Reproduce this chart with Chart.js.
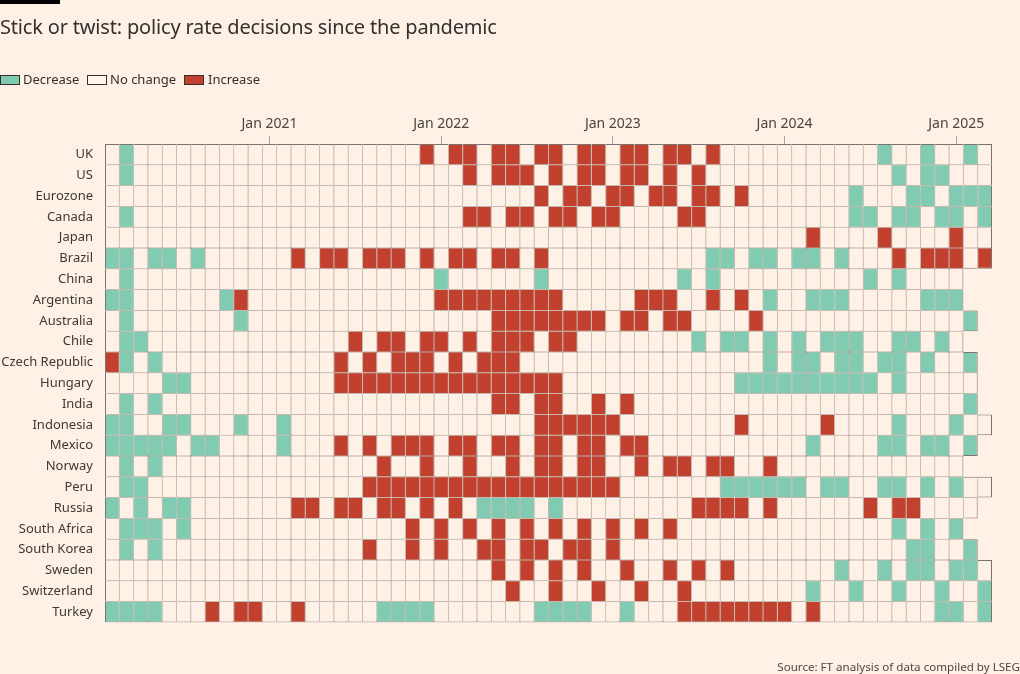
<!DOCTYPE html>
<html>
<head>
<meta charset="utf-8">
<script src="https://cdn.jsdelivr.net/npm/chart.js@4.4.1/dist/chart.umd.min.js"></script>
<style>
  html, body { margin: 0; padding: 0; background: #fff1e5; }
  #wrap { position: relative; width: 1020px; height: 674px; overflow: hidden; background: #fff1e5;
          font-family: 'Noto Sans', 'Open Sans', sans-serif; color: #33302e; }
  #topbar { position: absolute; left: 0; top: 0; width: 60px; height: 4px; background: #000; }
  #title { position: absolute; left: 0; top: 17px; font-size: 20px; letter-spacing: -0.18px; line-height: 1; white-space: nowrap; color: #33302e; }
  .sw { position: absolute; top: 75px; width: 18px; height: 8px; border: 1px solid #33302e; }
  .lt { position: absolute; top: 73px; font-size: 13px; line-height: 1; white-space: nowrap; color: #33302e; }
  #source { position: absolute; right: 0px; top: 661px; font-size: 11.6px; line-height: 1; white-space: nowrap; color: #4d4845; }
  #chartbox { position: absolute; left: 0; top: 0; width: 1020px; height: 674px; }
</style>
</head>
<body>
<div id="wrap">
  <div id="chartbox"><canvas id="c"></canvas></div>
  <div id="topbar"></div>
  <div id="title">Stick or twist: policy rate decisions since the pandemic</div>
  <div class="sw" style="left:0px;background:#80cbb1"></div><div class="lt" style="left:23px">Decrease</div>
  <div class="sw" style="left:87px;background:#fff6ee"></div><div class="lt" style="left:110px">No change</div>
  <div class="sw" style="left:184px;background:#c1402e"></div><div class="lt" style="left:208px">Increase</div>
  <div id="source">Source: FT analysis of data compiled by LSEG</div>
</div>
<script>
// ---- DATA ----
const countries = ['UK','US','Eurozone','Canada','Japan','Brazil','China','Argentina','Australia','Chile',
  'Czech Republic','Hungary','India','Indonesia','Mexico','Norway','Peru','Russia','South Africa',
  'South Korea','Sweden','Switzerland','Turkey'];

const months = [
  'Feb 2020','Mar 2020','Apr 2020','May 2020','Jun 2020','Jul 2020','Aug 2020','Sep 2020','Oct 2020','Nov 2020','Dec 2020',
  'Jan 2021','Feb 2021','Mar 2021','Apr 2021','May 2021','Jun 2021','Jul 2021','Aug 2021','Sep 2021','Oct 2021','Nov 2021','Dec 2021',
  'Jan 2022','Feb 2022','Mar 2022','Apr 2022','May 2022','Jun 2022','Jul 2022','Aug 2022','Sep 2022','Oct 2022','Nov 2022','Dec 2022',
  'Jan 2023','Feb 2023','Mar 2023','Apr 2023','May 2023','Jun 2023','Jul 2023','Aug 2023','Sep 2023','Oct 2023','Nov 2023','Dec 2023',
  'Jan 2024','Feb 2024','Mar 2024','Apr 2024','May 2024','Jun 2024','Jul 2024','Aug 2024','Sep 2024','Oct 2024','Nov 2024','Dec 2024',
  'Jan 2025','Feb 2025','Mar 2025'];

const tickLabels = ['Jan 2021','Jan 2022','Jan 2023','Jan 2024','Jan 2025'];

// -1 = decrease, 0 = no change, 1 = increase (one value per month from Feb 2020; shorter rows end earlier)
const uk = [0,-1,0,0,0,0,0,0,0,0,0,
  0,0,0,0,0,0,0,0,0,0,0,1,
  0,1,1,0,1,1,0,1,1,0,1,1,
  0,1,1,0,1,1,0,1,0,0,0,0,
  0,0,0,0,0,0,0,-1,0,0,-1,0,
  0,-1,0];
const us = [0,-1,0,0,0,0,0,0,0,0,0,
  0,0,0,0,0,0,0,0,0,0,0,0,
  0,0,1,0,1,1,1,0,1,0,1,1,
  0,1,1,0,1,0,1,0,0,0,0,0,
  0,0,0,0,0,0,0,0,-1,0,-1,-1,
  0,0,0];
const eurozone = [0,0,0,0,0,0,0,0,0,0,0,
  0,0,0,0,0,0,0,0,0,0,0,0,
  0,0,0,0,0,0,0,1,0,1,1,0,
  1,1,0,1,1,0,1,1,0,1,0,0,
  0,0,0,0,0,-1,0,0,0,-1,-1,0,
  -1,-1,-1];
const canada = [0,-1,0,0,0,0,0,0,0,0,0,
  0,0,0,0,0,0,0,0,0,0,0,0,
  0,0,1,1,0,1,1,0,1,1,0,1,
  1,0,0,0,0,1,1,0,0,0,0,0,
  0,0,0,0,0,-1,-1,0,-1,-1,0,-1,
  -1,0,-1];
const japan = [0,0,0,0,0,0,0,0,0,0,0,
  0,0,0,0,0,0,0,0,0,0,0,0,
  0,0,0,0,0,0,0,0,0,0,0,0,
  0,0,0,0,0,0,0,0,0,0,0,0,
  0,0,1,0,0,0,0,1,0,0,0,0,
  1,0,0];
const brazil = [-1,-1,0,-1,-1,0,-1,0,0,0,0,
  0,0,1,0,1,1,0,1,1,1,0,1,
  0,1,1,0,1,1,0,1,0,0,0,0,
  0,0,0,0,0,0,0,-1,-1,0,-1,-1,
  0,-1,-1,0,-1,0,0,0,1,0,1,1,
  1,0,1];
const china = [0,-1,0,0,0,0,0,0,0,0,0,
  0,0,0,0,0,0,0,0,0,0,0,0,
  -1,0,0,0,0,0,0,-1,0,0,0,0,
  0,0,0,0,0,-1,0,-1,0,0,0,0,
  0,0,0,0,0,0,-1,0,-1,0,0,0,
  0];
const argentina = [-1,-1,0,0,0,0,0,0,-1,1,0,
  0,0,0,0,0,0,0,0,0,0,0,0,
  1,1,1,1,1,1,1,1,1,0,0,0,
  0,0,1,1,1,0,0,1,0,1,0,-1,
  0,0,-1,-1,-1,0,0,0,0,0,-1,-1,
  -1];
const australia = [0,-1,0,0,0,0,0,0,0,-1,0,
  0,0,0,0,0,0,0,0,0,0,0,0,
  0,0,0,0,1,1,1,1,1,1,1,1,
  0,1,1,0,1,1,0,0,0,0,1,0,
  0,0,0,0,0,0,0,0,0,0,0,0,
  0,-1];
const chile = [0,-1,-1,0,0,0,0,0,0,0,0,
  0,0,0,0,0,0,1,0,1,1,0,1,
  1,0,1,0,1,1,1,0,1,1,0,0,
  0,0,0,0,0,0,-1,0,-1,-1,0,-1,
  0,-1,0,-1,-1,-1,0,0,-1,-1,0,-1,
  0];
const czechRepublic = [1,-1,0,-1,0,0,0,0,0,0,0,
  0,0,0,0,0,1,0,1,0,1,1,1,
  0,1,0,1,1,1,0,0,0,0,0,0,
  0,0,0,0,0,0,0,0,0,0,0,-1,
  0,-1,-1,0,-1,-1,0,-1,-1,0,-1,0,
  0,-1];
const hungary = [0,0,0,0,-1,-1,0,0,0,0,0,
  0,0,0,0,0,1,1,1,1,1,1,1,
  1,1,1,1,1,1,1,1,1,0,0,0,
  0,0,0,0,0,0,0,0,0,-1,-1,-1,
  -1,-1,-1,-1,-1,-1,-1,0,-1,0,0,0,
  0,0];
const india = [0,-1,0,-1,0,0,0,0,0,0,0,
  0,0,0,0,0,0,0,0,0,0,0,0,
  0,0,0,0,1,1,0,1,1,0,0,1,
  0,1,0,0,0,0,0,0,0,0,0,0,
  0,0,0,0,0,0,0,0,0,0,0,0,
  0,-1];
const indonesia = [-1,-1,0,0,-1,-1,0,0,0,-1,0,
  0,-1,0,0,0,0,0,0,0,0,0,0,
  0,0,0,0,0,0,0,1,1,1,1,1,
  1,0,0,0,0,0,0,0,0,1,0,0,
  0,0,0,1,0,0,0,0,-1,0,0,0,
  -1,0,0];
const mexico = [-1,-1,-1,-1,-1,0,-1,-1,0,0,0,
  0,-1,0,0,0,1,0,1,0,1,1,1,
  0,1,1,0,1,1,0,1,1,0,1,1,
  0,1,1,0,0,0,0,0,0,0,0,0,
  0,0,-1,0,0,0,0,-1,-1,0,-1,-1,
  0,-1];
const norway = [0,-1,0,-1,0,0,0,0,0,0,0,
  0,0,0,0,0,0,0,0,1,0,0,1,
  0,0,1,0,0,1,0,1,1,0,1,1,
  0,0,1,0,1,1,0,1,1,0,0,1,
  0,0,0,0,0,0,0,0,0,0,0,0,
  0];
const peru = [0,-1,-1,0,0,0,0,0,0,0,0,
  0,0,0,0,0,0,0,1,1,1,1,1,
  1,1,1,1,1,1,1,1,1,1,1,1,
  1,0,0,0,0,0,0,0,-1,-1,-1,-1,
  -1,-1,0,-1,-1,0,0,-1,-1,0,-1,0,
  -1,0,0];
const russia = [-1,0,-1,0,-1,-1,0,0,0,0,0,
  0,0,1,1,0,1,1,0,1,1,0,1,
  0,1,0,-1,-1,-1,-1,0,-1,0,0,0,
  0,0,0,0,0,0,1,1,1,1,0,1,
  0,0,0,0,0,0,1,0,1,1,0,0,
  0,0];
const southAfrica = [0,-1,-1,-1,0,-1,0,0,0,0,0,
  0,0,0,0,0,0,0,0,0,0,1,0,
  1,0,1,0,1,0,1,0,1,0,1,0,
  1,0,1,0,1,0,0,0,0,0,0,0,
  0,0,0,0,0,0,0,0,-1,0,-1,0,
  -1];
const southKorea = [0,-1,0,-1,0,0,0,0,0,0,0,
  0,0,0,0,0,0,0,1,0,0,1,0,
  1,0,0,1,1,0,1,1,0,1,1,0,
  1,0,0,0,0,0,0,0,0,0,0,0,
  0,0,0,0,0,0,0,0,0,-1,-1,0,
  0,-1];
const sweden = [0,0,0,0,0,0,0,0,0,0,0,
  0,0,0,0,0,0,0,0,0,0,0,0,
  0,0,0,0,1,0,1,0,1,0,1,0,
  0,1,0,0,1,0,1,0,1,0,0,0,
  0,0,0,0,-1,0,0,-1,0,-1,-1,0,
  -1,-1,0];
const switzerland = [0,0,0,0,0,0,0,0,0,0,0,
  0,0,0,0,0,0,0,0,0,0,0,0,
  0,0,0,0,0,1,0,0,1,0,0,1,
  0,0,1,0,0,1,0,0,0,0,0,0,
  0,0,-1,0,0,-1,0,0,-1,0,0,-1,
  0,0,-1];
const turkey = [-1,-1,-1,-1,0,0,0,1,0,1,1,
  0,0,1,0,0,0,0,0,-1,-1,-1,-1,
  0,0,0,0,0,0,0,-1,-1,-1,-1,0,
  0,-1,0,0,0,1,1,1,1,1,1,1,
  1,0,1,0,0,0,0,0,0,0,0,-1,
  -1,0,-1];

// ---- BUILD ----
const rows = [uk, us, eurozone, canada, japan, brazil, china, argentina, australia, chile,
  czechRepublic, hungary, india, indonesia, mexico, norway, peru, russia, southAfrica,
  southKorea, sweden, switzerland, turkey];

const COLORS = { '-1': '#80cbb1', '0': '#fff1e5', '1': '#c1402e' };
const GRID = '#7a7470';

function has(r, c) { return r >= 0 && r < rows.length && c >= 0 && c < rows[r].length; }

const datasets = months.map((m, i) => ({
  label: m,
  data: rows.map(r => (i < r.length ? [i, i + 1] : null)),
  backgroundColor: rows.map(r => (i < r.length ? COLORS[String(r[i])] : 'transparent')),
  borderColor: GRID,
  borderWidth: (ctx) => {
    const r = ctx.dataIndex, c = ctx.datasetIndex;
    return {
      top: has(r - 1, c) ? 0.5 : 1,
      bottom: has(r + 1, c) ? 0.5 : 1,
      left: c > 0 ? 0.5 : 1,
      right: has(r, c + 1) ? 0.5 : 1
    };
  },
  borderSkipped: false,
  inflateAmount: 0,
  grouped: false,
  barPercentage: 1,
  categoryPercentage: 1
}));

new Chart(document.getElementById('c'), {
  type: 'bar',
  data: { labels: countries, datasets },
  options: {
    indexAxis: 'y',
    responsive: true,
    maintainAspectRatio: false,
    animation: false,
    layout: { padding: { left: 0, right: 28, top: 100, bottom: 51.6 } },
    plugins: { legend: { display: false }, tooltip: { enabled: false }, title: { display: false } },
    scales: {
      x: {
        type: 'linear',
        position: 'top',
        min: 0,
        max: months.length,
        afterBuildTicks: (scale) => {
          scale.ticks = tickLabels.map(t => ({ value: months.indexOf(t) + 0.5 }));
        },
        afterFit: (scale) => { scale.height = 44; },
        ticks: {
          autoSkip: false,
          maxRotation: 0,
          padding: 4,
          color: '#4a4541',
          font: { family: "'Noto Sans', sans-serif", size: 14 },
          callback: (v) => months[Math.floor(v)]
        },
        grid: { display: true, drawOnChartArea: false, drawTicks: true, tickLength: 8, color: '#a8a29c', lineWidth: 1 },
        border: { display: false }
      },
      y: {
        type: 'category',
        offset: true,
        afterFit: (scale) => { scale.width = 105; },
        ticks: {
          padding: 12,
          color: '#3d3935',
          font: { family: "'Noto Sans', sans-serif", size: 13 }
        },
        grid: { display: false, drawTicks: false },
        border: { display: false }
      }
    }
  }
});
</script>
</body>
</html>
